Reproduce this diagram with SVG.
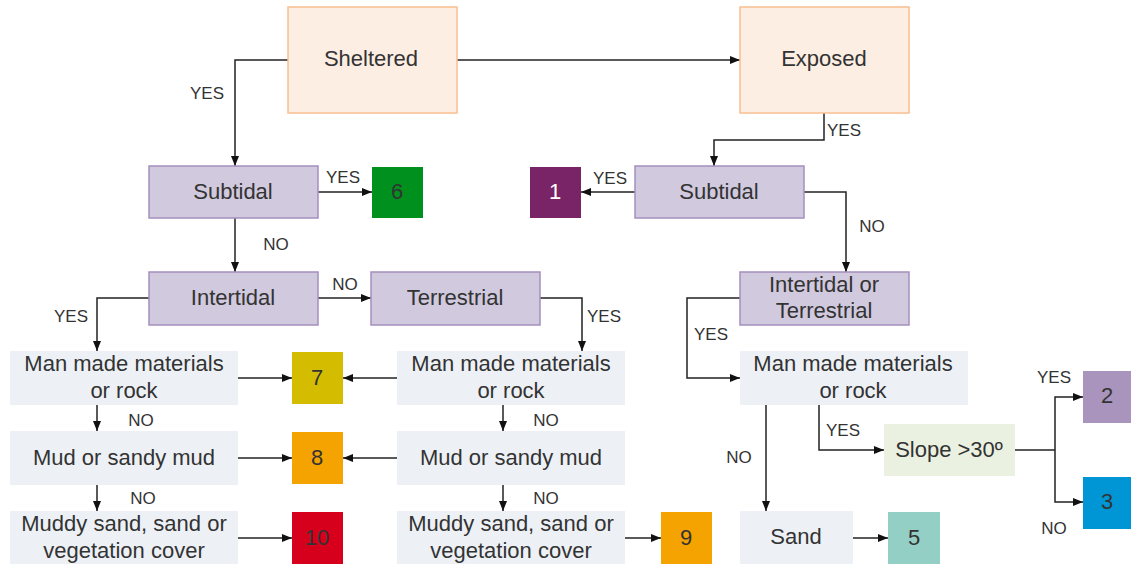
<svg xmlns="http://www.w3.org/2000/svg" width="1131" height="564" viewBox="0 0 1131 564">
<defs>
<marker id="ah" markerWidth="10" markerHeight="10" refX="10" refY="5" orient="auto" markerUnits="userSpaceOnUse">
<path d="M0,1 L10,5 L0,9 Z" fill="#111"/>
</marker>
<style>
.t{font-family:"Liberation Sans",Arial,sans-serif;font-size:22px;fill:#333;text-anchor:middle;dominant-baseline:central}
.l{font-family:"Liberation Sans",Arial,sans-serif;font-size:17px;fill:#333;text-anchor:middle;dominant-baseline:central}
.or{fill:#fdeee3;stroke:#f9bf8f;stroke-width:1.5}
.pu{fill:#d1c9de;stroke:#a48fbf;stroke-width:1.5}
.lt{fill:#edf1f6}
.c{fill:none;stroke:#222;stroke-width:1.5;marker-end:url(#ah)}
.n{fill:none;stroke:#222;stroke-width:1.5}
</style>
</defs>
<rect width="1131" height="564" fill="#fff"/>
<g id="connectors">
<path class="c" d="M457,60 H740"/>
<path class="c" d="M288,60 H235 V166"/>
<path class="c" d="M318,192 H372"/>
<path class="c" d="M235,218 V272"/>
<path class="c" d="M318,298 H371"/>
<path class="c" d="M149,298 H97 V351"/>
<path class="c" d="M540,298 H582 V351"/>
<path class="c" d="M238,378 H292"/>
<path class="c" d="M397,378 H343"/>
<path class="c" d="M97,405 V431"/>
<path class="c" d="M503,405 V431"/>
<path class="c" d="M238,458 H292"/>
<path class="c" d="M397,458 H343"/>
<path class="c" d="M97,485 V511"/>
<path class="c" d="M503,485 V511"/>
<path class="c" d="M238,538 H292"/>
<path class="c" d="M625,538 H661"/>
<path class="c" d="M824,113 V140 H714 V166"/>
<path class="c" d="M635,192 H581"/>
<path class="c" d="M804,192 H846 V272"/>
<path class="c" d="M740,298 H687 V378 H740"/>
<path class="c" d="M766,405 V511"/>
<path class="c" d="M819,405 V450 H884"/>
<path class="n" d="M1015,450 H1055"/>
<path class="c" d="M1055,450 V397 H1083"/>
<path class="c" d="M1055,450 V502 H1083"/>
<path class="c" d="M853,538 H888"/>
<text class="l" x="207" y="93">YES</text>
<text class="l" x="343" y="177">YES</text>
<text class="l" x="276" y="244">NO</text>
<text class="l" x="345" y="284">NO</text>
<text class="l" x="71" y="316">YES</text>
<text class="l" x="604" y="316">YES</text>
<text class="l" x="141" y="420">NO</text>
<text class="l" x="546" y="420">NO</text>
<text class="l" x="143" y="498">NO</text>
<text class="l" x="546" y="498">NO</text>
<text class="l" x="844" y="130">YES</text>
<text class="l" x="610" y="178">YES</text>
<text class="l" x="872" y="226">NO</text>
<text class="l" x="711" y="334">YES</text>
<text class="l" x="739" y="457">NO</text>
<text class="l" x="843" y="430">YES</text>
<text class="l" x="1054" y="377">YES</text>
<text class="l" x="1054" y="528">NO</text>
</g>
<g id="sheltered"><rect class="or" x="288" y="7" width="169" height="106"/><text class="t" x="371" y="58">Sheltered</text></g>
<g id="exposed"><rect class="or" x="740" y="7" width="169" height="106"/><text class="t" x="824" y="58">Exposed</text></g>
<g id="subtidal-l"><rect class="pu" x="149" y="166" width="169" height="52"/><text class="t" x="233" y="191">Subtidal</text></g>
<g id="box6"><rect x="372" y="167" width="51" height="51" fill="#00901e"/><text class="t" x="397" y="191">6</text></g>
<g id="intertidal"><rect class="pu" x="149" y="272" width="169" height="53"/><text class="t" x="233" y="297">Intertidal</text></g>
<g id="terrestrial"><rect class="pu" x="371" y="272" width="169" height="53"/><text class="t" x="455" y="297">Terrestrial</text></g>
<g id="manmade-l"><rect class="lt" x="10" y="351" width="228" height="54"/><text class="t" x="124" y="363">Man made materials</text><text class="t" x="124" y="390">or rock</text></g>
<g id="box7"><rect x="292" y="352" width="51" height="52" fill="#d4bd00"/><text class="t" x="317" y="377">7</text></g>
<g id="manmade-m"><rect class="lt" x="397" y="351" width="228" height="54"/><text class="t" x="511" y="363">Man made materials</text><text class="t" x="511" y="390">or rock</text></g>
<g id="mud-l"><rect class="lt" x="10" y="431" width="228" height="54"/><text class="t" x="124" y="457">Mud or sandy mud</text></g>
<g id="box8"><rect x="292" y="432" width="51" height="52" fill="#f5a300"/><text class="t" x="317" y="457">8</text></g>
<g id="mud-m"><rect class="lt" x="397" y="431" width="228" height="54"/><text class="t" x="511" y="457">Mud or sandy mud</text></g>
<g id="muddy-l"><rect class="lt" x="10" y="511" width="228" height="53"/><text class="t" x="124" y="523">Muddy sand, sand or</text><text class="t" x="124" y="550">vegetation cover</text></g>
<g id="box10"><rect x="292" y="512" width="51" height="52" fill="#d6001c"/><text class="t" x="317" y="537">10</text></g>
<g id="muddy-m"><rect class="lt" x="397" y="511" width="228" height="53"/><text class="t" x="511" y="523">Muddy sand, sand or</text><text class="t" x="511" y="550">vegetation cover</text></g>
<g id="box9"><rect x="661" y="512" width="51" height="52" fill="#f5a300"/><text class="t" x="686" y="537">9</text></g>
<g id="subtidal-r"><rect class="pu" x="635" y="166" width="169" height="52"/><text class="t" x="719" y="191">Subtidal</text></g>
<g id="box1"><rect x="530" y="167" width="51" height="51" fill="#7a2468"/><text class="t" x="555" y="191" style="fill:#fff">1</text></g>
<g id="inter-terr"><rect class="pu" x="740" y="272" width="169" height="53"/><text class="t" x="824" y="284">Intertidal or</text><text class="t" x="824" y="310">Terrestrial</text></g>
<g id="manmade-r"><rect class="lt" x="740" y="351" width="228" height="54"/><text class="t" x="853" y="363">Man made materials</text><text class="t" x="853" y="390">or rock</text></g>
<g id="slope"><rect x="884" y="424" width="131" height="52" fill="#ebf1e1"/><text class="t" x="949" y="449">Slope &gt;30º</text></g>
<g id="box2"><rect x="1083" y="371" width="48" height="52" fill="#a894bc"/><text class="t" x="1107" y="395">2</text></g>
<g id="box3"><rect x="1083" y="477" width="48" height="52" fill="#0096d6"/><text class="t" x="1107" y="501">3</text></g>
<g id="sand"><rect class="lt" x="740" y="511" width="113" height="53"/><text class="t" x="796" y="536">Sand</text></g>
<g id="box5"><rect x="888" y="512" width="52" height="52" fill="#94cfc6"/><text class="t" x="914" y="537">5</text></g>
</svg>
